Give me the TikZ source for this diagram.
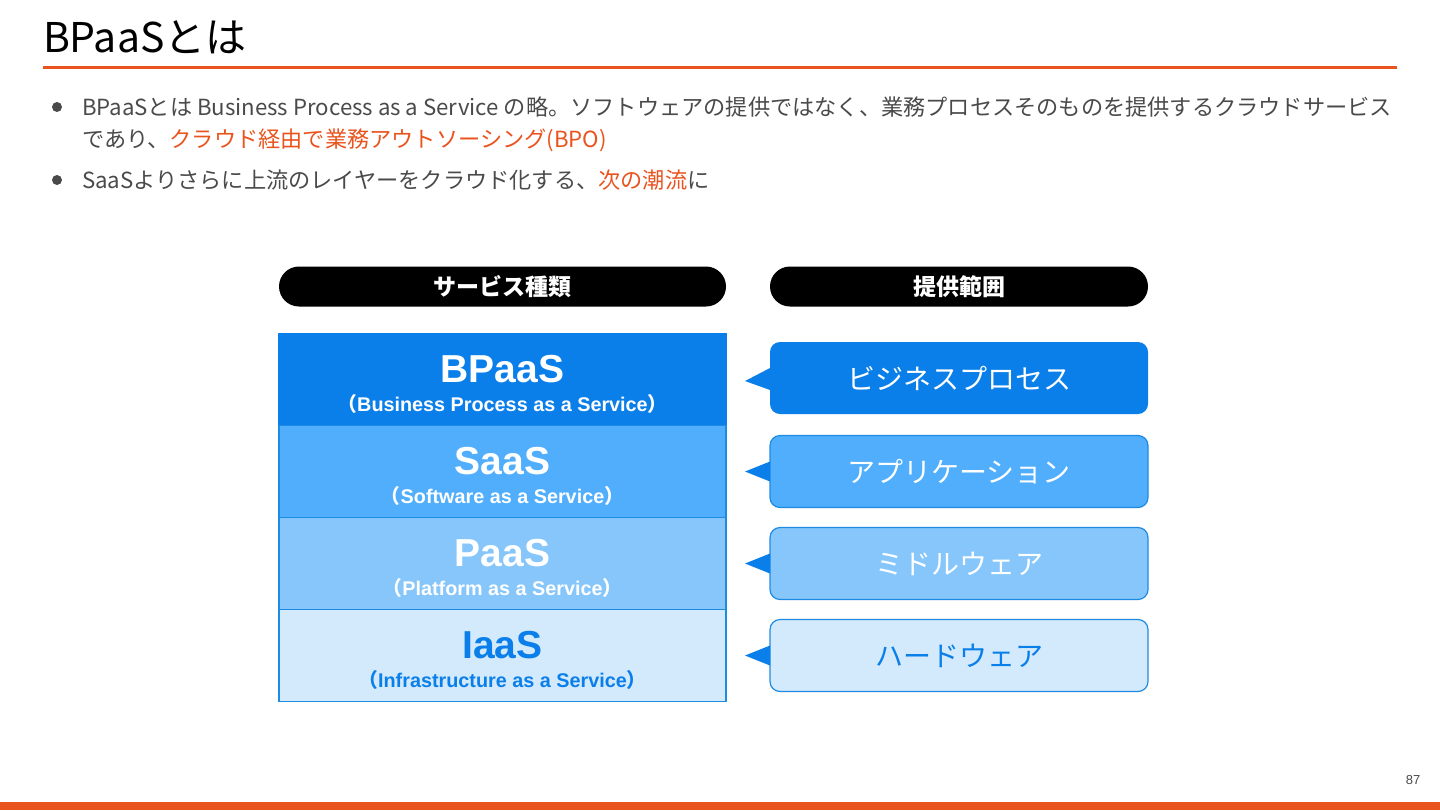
\documentclass[tikz,border=0pt]{standalone}
\usepackage{fontspec}
\setmainfont{Liberation Sans}
\newfontfamily\jpfont{Noto Sans CJK JP}
\usepackage{tikz}
\usetikzlibrary{positioning}

\definecolor{accent}{HTML}{E9541E}
\definecolor{bodygray}{HTML}{4A4A4A}
\definecolor{bpaasblue}{HTML}{0B7FE9}
\definecolor{saasblue}{HTML}{50AEFC}
\definecolor{paasblue}{HTML}{86C6FB}
\definecolor{iaasblue}{HTML}{D3E9FC}
\definecolor{edgeblue}{HTML}{1E8BE3}

\begin{document}
\begin{tikzpicture}[x=0.5pt, y=-0.5pt, node distance=22pt,
  every node/.style={inner sep=0pt, outer sep=0pt},
  bodytext/.style={font=\jpfont\fontsize{11.1pt}{13pt}\selectfont, text=bodygray, anchor=base west},
  pill/.style={fill=black, rounded corners=10pt, minimum height=20pt, text=white, font=\jpfont\bfseries\fontsize{11.5pt}{13pt}\selectfont},
  layer/.style={draw=edgeblue, line width=0.6pt, minimum width=223.5pt, minimum height=46pt},
  bigname/.style={font=\bfseries\fontsize{19.5pt}{22pt}\selectfont, text=white, anchor=base},
  longname/.style={font=\bfseries\fontsize{9.9pt}{11pt}\selectfont, text=white, anchor=base},
  callout/.style={rounded corners=5pt, minimum width=189pt, minimum height=36pt, text=white, font=\jpfont\fontsize{14pt}{16pt}\selectfont},
  pointer/.style={fill=bpaasblue}]
\useasboundingbox (0,0) rectangle (1440,810);

% title and rules
\node[font=\jpfont\fontsize{20.5pt}{24pt}\selectfont, anchor=base west] (title) at (43,52) {BPaaSとは};
\fill[accent] (43,65.5) rectangle (1397,68.5);
\fill[accent] (0,802) rectangle (1440,810);
\node[font=\fontsize{6.5pt}{8pt}\selectfont, text=bodygray] (page) at (1413,780) {87};

% bullets
\node[circle, fill=bodygray, minimum size=5pt] (dot1) at (57,107) {};
\node[bodytext] (line1) at (82,115) {BPaaSとは Business Process as a Service の略。ソフトウェアの提供ではなく、業務プロセスそのものを提供するクラウドサービス};
\node[bodytext] (line2) at (82,147) {であり、\textcolor{accent}{クラウド経由で業務アウトソーシング(BPO)}};
\node[circle, fill=bodygray, minimum size=5pt] (dot2) at (57,180) {};
\node[bodytext] (line3) at (82,188) {SaaSよりさらに上流のレイヤーをクラウド化する、\textcolor{accent}{次の潮流}に};

% service stack
\node[layer, fill=bpaasblue, draw=bpaasblue] (bpaas) at (502.5,379.5) {};
\node[layer, fill=saasblue, below=0pt of bpaas] (saas) {};
\node[layer, fill=paasblue, below=0pt of saas] (paas) {};
\node[layer, fill=iaasblue, below=0pt of paas] (iaas) {};
\draw[edgeblue, line width=0.6pt] (bpaas.south west) -- (bpaas.south east);

\node[bigname] (bpaas-name) at ([yshift=-1.25pt]bpaas.center) {BPaaS};
\node[longname] (bpaas-long) at ([yshift=-15.75pt]bpaas.center) {{\jpfont （}Business Process as a Service{\jpfont ）}};
\node[bigname] (saas-name) at ([yshift=-1.25pt]saas.center) {SaaS};
\node[longname] (saas-long) at ([yshift=-15.75pt]saas.center) {{\jpfont （}Software as a Service{\jpfont ）}};
\node[bigname] (paas-name) at ([yshift=-1.25pt]paas.center) {PaaS};
\node[longname] (paas-long) at ([yshift=-15.75pt]paas.center) {{\jpfont （}Platform as a Service{\jpfont ）}};
\node[bigname, text=bpaasblue] (iaas-name) at ([yshift=-1.25pt]iaas.center) {IaaS};
\node[longname, text=bpaasblue] (iaas-long) at ([yshift=-15.75pt]iaas.center) {{\jpfont （}Infrastructure as a Service{\jpfont ）}};

% scope callouts
\node[callout, fill=bpaasblue, right=of bpaas, yshift=0.75pt] (bproc) {ビジネスプロセス};
\node[callout, fill=saasblue, draw=edgeblue, line width=0.6pt, right=of saas] (app) {アプリケーション};
\node[callout, fill=paasblue, draw=edgeblue, line width=0.6pt, right=of paas] (mid) {ミドルウェア};
\node[callout, fill=iaasblue, draw=edgeblue, line width=0.6pt, text=bpaasblue, right=of iaas] (hw) {ハードウェア};
\fill[pointer] ([yshift=5pt]bproc.west) -- ([xshift=-12.5pt, yshift=-1.5pt]bproc.west) -- ([yshift=-6pt]bproc.west) -- cycle;
\fill[pointer] ([yshift=5pt]app.west) -- ([xshift=-12.5pt]app.west) -- ([yshift=-5pt]app.west) -- cycle;
\fill[pointer] ([yshift=5pt]mid.west) -- ([xshift=-12.5pt]mid.west) -- ([yshift=-5pt]mid.west) -- cycle;
\fill[pointer] ([yshift=5pt]hw.west) -- ([xshift=-12.5pt]hw.west) -- ([yshift=-5pt]hw.west) -- cycle;

% headers
\node[pill, minimum width=223.5pt, above=13.5pt of bpaas] (kind) {サービス種類};
\node[pill, minimum width=189pt] (scope) at (bproc |- kind) {提供範囲};
\end{tikzpicture}
\end{document}
